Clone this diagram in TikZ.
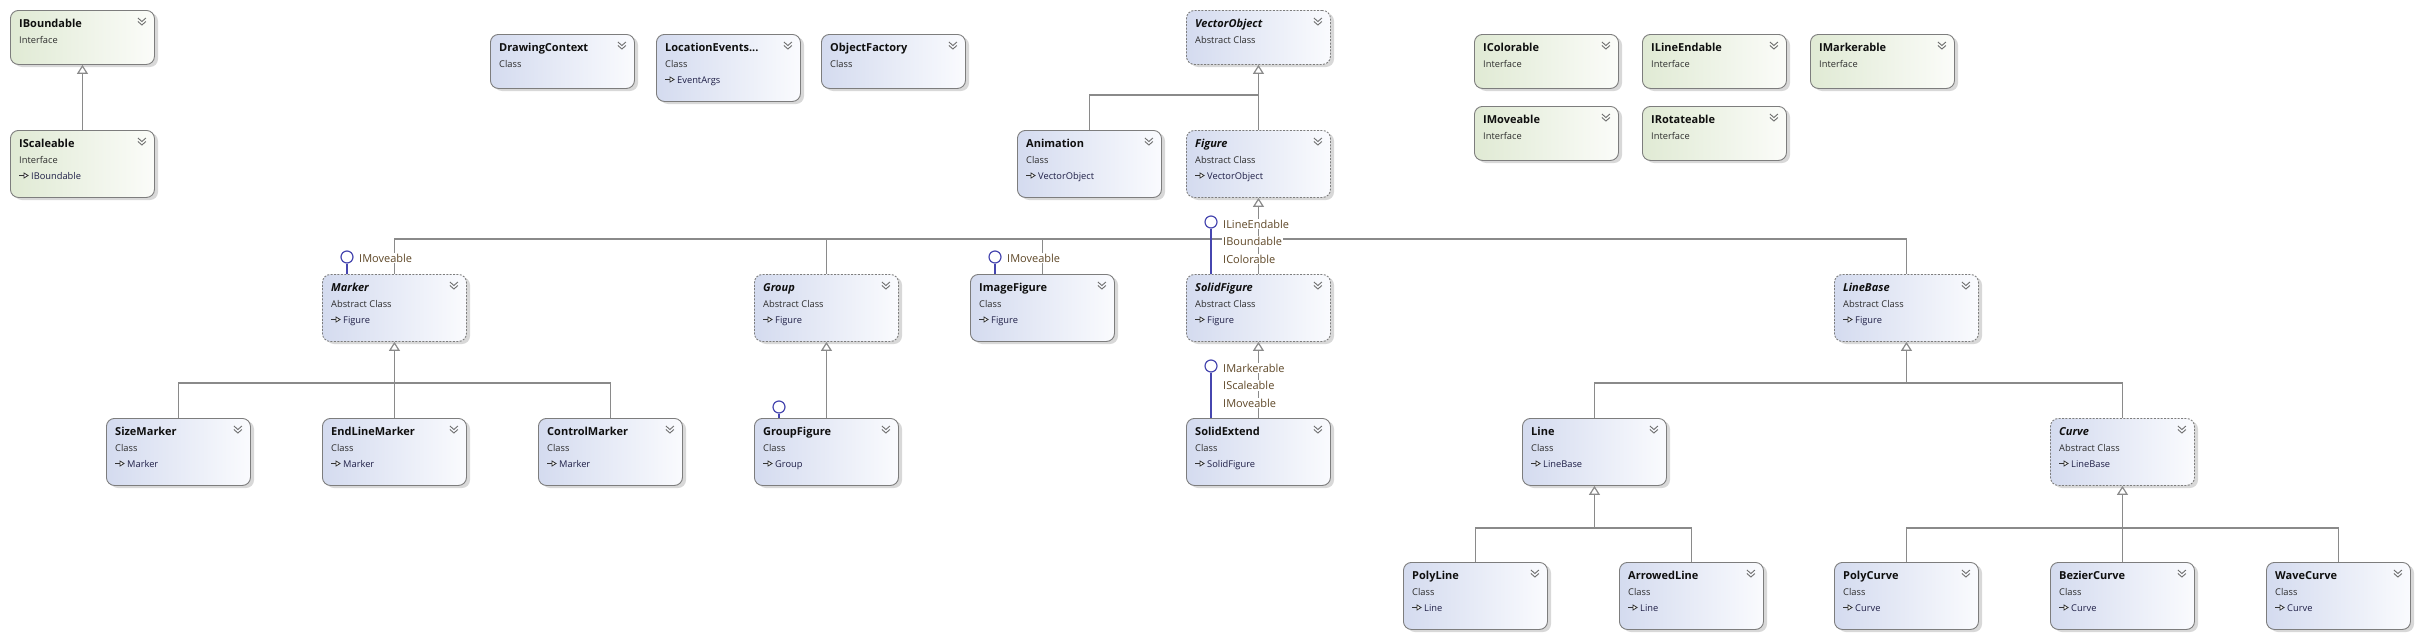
\documentclass[tikz,border=0pt]{standalone}
\usepackage{fontspec}
\setmainfont{Open Sans}
\usetikzlibrary{arrows.meta,calc}
\definecolor{conncol}{RGB}{138,138,138}
\definecolor{bordercol}{RGB}{125,125,125}
\definecolor{shadowcol}{RGB}{216,216,216}
\definecolor{clsL}{RGB}{212,219,239}
\definecolor{clsR}{RGB}{250,251,254}
\definecolor{ifcL}{RGB}{224,234,212}
\definecolor{ifcR}{RGB}{251,252,249}
\definecolor{titlecol}{RGB}{15,15,15}
\definecolor{subcol}{RGB}{45,45,45}
\definecolor{parcol}{RGB}{30,30,70}
\definecolor{chevcol}{RGB}{110,110,110}
\definecolor{lollicol}{RGB}{70,70,175}
\definecolor{labelcol}{RGB}{95,72,40}
\tikzset{
  boxbase/.style={draw=bordercol, line width=0.9pt, rounded corners=8pt,
    minimum width=144pt, inner sep=0pt, anchor=north west},
  clsbox/.style={boxbase, left color=clsL, right color=clsR},
  absbox/.style={clsbox, dash pattern=on 2pt off 1.4pt},
  ifcbox/.style={boxbase, left color=ifcL, right color=ifcR},
  titlebase/.style={inner sep=0pt, anchor=base west, text=titlecol,
    font=\fontsize{11}{13}\selectfont\bfseries},
  clsbox title/.style={titlebase},
  ifcbox title/.style={titlebase},
  absbox title/.style={titlebase, font=\fontsize{11}{13}\selectfont\bfseries\itshape},
  subtext/.style={inner sep=0pt, anchor=base west, text=subcol,
    font=\fontsize{9.3}{11}\selectfont},
  partext/.style={inner sep=0pt, anchor=base west, text=parcol,
    font=\fontsize{9.3}{11}\selectfont},
  chev/.style={draw=chevcol, line width=0.9pt},
  realize/.style={draw=black!80, line width=0.8pt},
  conn/.style={draw=conncol, line width=1.2pt},
  inh/.style={conn, -{Triangle[length=9pt, width=11pt, fill=white]}},
  lollicirc/.style={circle, draw=lollicol, line width=1.2pt, fill=white,
    minimum size=12pt, inner sep=0pt},
  lolliline/.style={draw=lollicol, line width=1.2pt},
  ilabel/.style={anchor=west, fill=white, inner sep=1pt, text=labelcol,
    font=\fontsize{11}{13}\selectfont},
}
\newcommand\umlbox[7]{%
  \def\umlparent{#7}%
  \ifx\umlparent\empty\def\umlh{54}\else\def\umlh{67}\fi
  \fill[shadowcol, rounded corners=8pt] (#2+4,#3+3) rectangle ++(144,\umlh);
  \node[#4, minimum height=\umlh pt] (#1) at (#2,#3) {};
  \node[#4 title] (#1-t) at ($(#1.north west)+(9,17.5)$) {#5};
  \node[subtext] (#1-s) at ($(#1.north west)+(9,33.3)$) {#6};
  \draw[chev] ($(#1.north east)+(-17,8)$) -- ++(4,3.5) -- ++(4,-3.5);
  \draw[chev] ($(#1.north east)+(-17,11.5)$) -- ++(4,3.5) -- ++(4,-3.5);
  \ifx\umlparent\empty\else
    \draw[realize] ($(#1.north west)+(9,45.5)$) -- ++(5,0);
    \draw[realize, fill=white] ($(#1.north west)+(14,43)$) -- ++(4,2.5) -- ++(-4,2.5) -- cycle;
    \node[partext] (#1-p) at ($(#1.north west)+(21,49.3)$) {#7};
  \fi
}
\newcommand\lolly[3]{%
  \node[lollicirc] (#1) at ($(#2.north west)+(25,-#3)$) {};
  \draw[lolliline] (#1.south) -- (#1.south |- #2.north);
}
\begin{document}
\begin{tikzpicture}[x=1pt,y=-1pt]
\useasboundingbox (0,0) rectangle (2419,637);
% interfaces
\umlbox{IBoundable}{10}{10}{ifcbox}{IBoundable}{Interface}{}
\umlbox{IScaleable}{10}{130}{ifcbox}{IScaleable}{Interface}{IBoundable}
\umlbox{IColorable}{1474}{34}{ifcbox}{IColorable}{Interface}{}
\umlbox{ILineEndable}{1642}{34}{ifcbox}{ILineEndable}{Interface}{}
\umlbox{IMarkerable}{1810}{34}{ifcbox}{IMarkerable}{Interface}{}
\umlbox{IMoveable}{1474}{106}{ifcbox}{IMoveable}{Interface}{}
\umlbox{IRotateable}{1642}{106}{ifcbox}{IRotateable}{Interface}{}
% standalone classes
\umlbox{DrawingContext}{490}{34}{clsbox}{DrawingContext}{Class}{}
\umlbox{LocationEvents}{656}{34}{clsbox}{LocationEvents...}{Class}{EventArgs}
\umlbox{ObjectFactory}{821}{34}{clsbox}{ObjectFactory}{Class}{}
% hierarchy
\umlbox{VectorObject}{1186}{10}{absbox}{VectorObject}{Abstract Class}{}
\umlbox{Animation}{1017}{130}{clsbox}{Animation}{Class}{VectorObject}
\umlbox{Figure}{1186}{130}{absbox}{Figure}{Abstract Class}{VectorObject}
\umlbox{Marker}{322}{274}{absbox}{Marker}{Abstract Class}{Figure}
\umlbox{Group}{754}{274}{absbox}{Group}{Abstract Class}{Figure}
\umlbox{ImageFigure}{970}{274}{clsbox}{ImageFigure}{Class}{Figure}
\umlbox{SolidFigure}{1186}{274}{absbox}{SolidFigure}{Abstract Class}{Figure}
\umlbox{LineBase}{1834}{274}{absbox}{LineBase}{Abstract Class}{Figure}
\umlbox{SizeMarker}{106}{418}{clsbox}{SizeMarker}{Class}{Marker}
\umlbox{EndLineMarker}{322}{418}{clsbox}{EndLineMarker}{Class}{Marker}
\umlbox{ControlMarker}{538}{418}{clsbox}{ControlMarker}{Class}{Marker}
\umlbox{GroupFigure}{754}{418}{clsbox}{GroupFigure}{Class}{Group}
\umlbox{SolidExtend}{1186}{418}{clsbox}{SolidExtend}{Class}{SolidFigure}
\umlbox{Line}{1522}{418}{clsbox}{Line}{Class}{LineBase}
\umlbox{Curve}{2050}{418}{absbox}{Curve}{Abstract Class}{LineBase}
\umlbox{PolyLine}{1403}{562}{clsbox}{PolyLine}{Class}{Line}
\umlbox{ArrowedLine}{1619}{562}{clsbox}{ArrowedLine}{Class}{Line}
\umlbox{PolyCurve}{1834}{562}{clsbox}{PolyCurve}{Class}{Curve}
\umlbox{BezierCurve}{2050}{562}{clsbox}{BezierCurve}{Class}{Curve}
\umlbox{WaveCurve}{2266}{562}{clsbox}{WaveCurve}{Class}{Curve}
% connectors
\draw[inh] (IScaleable.north) -- (IBoundable.south);
\coordinate (vobus) at ($(VectorObject.south)+(0,30)$);
\draw[conn] (Animation.north) |- (vobus);
\draw[conn] (Figure.north) -- (vobus);
\draw[inh] (vobus) -- (VectorObject.south);
\coordinate (figbus) at ($(Figure.south)+(0,41)$);
\foreach \c in {Marker,Group,ImageFigure,SolidFigure,LineBase}
  \draw[conn] (\c.north) |- (figbus);
\draw[inh] (figbus) -- (Figure.south);
\coordinate (mkbus) at ($(Marker.south)+(0,41)$);
\foreach \c in {SizeMarker,EndLineMarker,ControlMarker}
  \draw[conn] (\c.north) |- (mkbus);
\draw[inh] (mkbus) -- (Marker.south);
\draw[inh] (GroupFigure.north) -- (Group.south);
\draw[inh] (SolidExtend.north) -- (SolidFigure.south);
\coordinate (lbbus) at ($(LineBase.south)+(0,41)$);
\foreach \c in {Line,Curve}
  \draw[conn] (\c.north) |- (lbbus);
\draw[inh] (lbbus) -- (LineBase.south);
\coordinate (lnbus) at ($(Line.south)+(0,42)$);
\foreach \c in {PolyLine,ArrowedLine}
  \draw[conn] (\c.north) |- (lnbus);
\draw[inh] (lnbus) -- (Line.south);
\coordinate (cvbus) at ($(Curve.south)+(0,42)$);
\foreach \c in {PolyCurve,BezierCurve,WaveCurve}
  \draw[conn] (\c.north) |- (cvbus);
\draw[inh] (cvbus) -- (Curve.south);
% interface labels
\coordinate (mkl) at ($(Marker.north west)+(36,-16)$);
\node[ilabel] (mkl-1) at (mkl) {IMoveable};
\coordinate (iml) at ($(ImageFigure.north west)+(36,-16)$);
\node[ilabel] (iml-1) at (iml) {IMoveable};
\coordinate (sfl) at ($(SolidFigure.north west)+(36,-50)$);
\node[ilabel] (sfl-1) at (sfl) {ILineEndable};
\node[ilabel] (sfl-2) at ($(sfl)+(0,17.5)$) {IBoundable};
\node[ilabel] (sfl-3) at ($(sfl)+(0,35)$) {IColorable};
\coordinate (sel) at ($(SolidExtend.north west)+(36,-50)$);
\node[ilabel] (sel-1) at (sel) {IMarkerable};
\node[ilabel] (sel-2) at ($(sel)+(0,17.5)$) {IScaleable};
\node[ilabel] (sel-3) at ($(sel)+(0,35)$) {IMoveable};
% lollipops
\lolly{mk-lp}{Marker}{17}
\lolly{im-lp}{ImageFigure}{17}
\lolly{sf-lp}{SolidFigure}{52}
\lolly{gf-lp}{GroupFigure}{11}
\lolly{se-lp}{SolidExtend}{52}
\end{tikzpicture}
\end{document}
